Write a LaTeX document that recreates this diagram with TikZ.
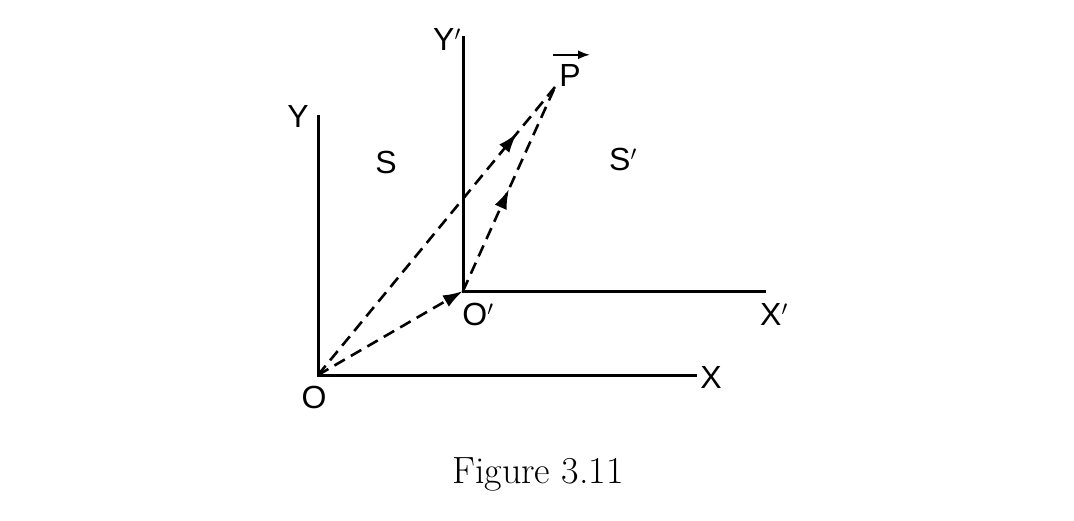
\documentclass[tikz,border=0pt]{standalone}
\usepackage{fontspec}
\setsansfont{Liberation Sans}
\usetikzlibrary{arrows.meta,decorations.markings}
\tikzset{
  axis/.style={line width=3pt},
  vec/.style={line width=2.6pt, dash pattern=on 12pt off 7pt},
  lbl/.style={font=\sffamily\fontsize{32}{32}\selectfont, inner sep=0pt},
  midarrow/.style={postaction={decorate}, decoration={markings,
     mark=at position #1 with {\arrow{Latex[length=20pt,width=13pt]}}}},
  endarrow/.style={-{Latex[length=20pt,width=13pt]}, shorten >=0pt}
}
\begin{document}
\begin{tikzpicture}[x=1pt,y=-1pt]
\useasboundingbox (0,0) rectangle (1074,520);
% frame S
\coordinate (O) at (318,375);
\coordinate (Ytop) at (318,115);
\coordinate (Xend) at (697,375);
% frame S'
\coordinate (Op) at (463,291);
\coordinate (Yptop) at (463,36);
\coordinate (Xpend) at (766,291);
\coordinate (P) at (555,87);
\draw[axis] (Ytop) -- (O) -- (Xend);
\draw[axis] (Yptop) -- (Op) -- (Xpend);
% vectors
\draw[vec, endarrow] (O) -- (Op);
\draw[vec, midarrow=0.84] (O) -- (P);
\draw[vec, midarrow=0.5] (Op) -- (P);
% labels
\node[lbl] (lO) at (314,397) {O};
\node[lbl] (lY) at (298,116) {Y};
\node[lbl] (lX) at (711,377) {X};
\node[lbl] (lOp) at (478,314) {O$^{\prime}$};
\node[lbl] (lYp) at (447,39) {Y$^{\prime}$};
\node[lbl] (lXp) at (774,314) {X$^{\prime}$};
\node[lbl] (lS) at (386,162) {S};
\node[lbl] (lSp) at (623,159) {S$^{\prime}$};
\node[lbl] (lP) at (570,75) {P};
\draw[line width=1.8pt, -{Latex[length=12pt,width=9pt]}] ([xshift=-17pt,yshift=9pt]lP.north) -- ([xshift=20pt,yshift=9pt]lP.north);
% caption
\node[font=\fontsize{38}{38}\selectfont, inner sep=0pt] (cap) at (538,474) {Figure 3.11};
\end{tikzpicture}
\end{document}
